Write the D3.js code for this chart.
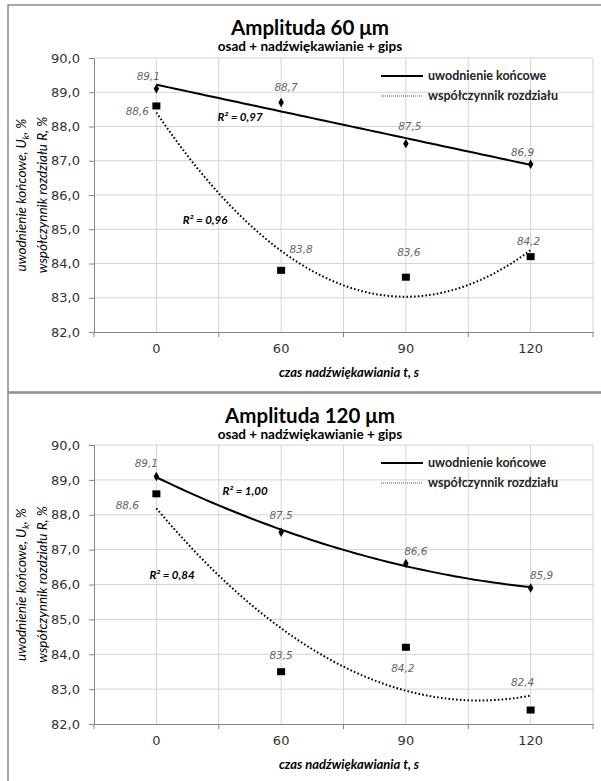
<!DOCTYPE html>
<html>
<head>
<meta charset="utf-8">
<script src="https://cdn.jsdelivr.net/npm/d3@7/dist/d3.min.js"></script>
<style>
  html, body { margin: 0; padding: 0; background: #fff; }
  svg { display: block; }
</style>
</head>
<body>
<svg id="chart" width="601" height="781"></svg>
<script>
// Sonication time categories (s)
const categories = ["0", "60", "90", "120"];

// Amplitude 60 µm
const uwodnienie60 = [89.1, 88.7, 87.5, 86.9];
const rozdzial60   = [88.6, 83.8, 83.6, 84.2];

// Amplitude 120 µm
const uwodnienie120 = [89.1, 87.5, 86.6, 85.9];
const rozdzial120   = [88.6, 83.5, 84.2, 82.4];

// Value axis
const yTicks = [82, 83, 84, 85, 86, 87, 88, 89, 90];

// Trendline fit degree and coefficient of determination labels
const trend60  = { uwodnienie: 1, rozdzial: 2 };
const trend120 = { uwodnienie: 2, rozdzial: 2 };
const r2Labels60  = ["R² = 0,97", "R² = 0,96"];
const r2Labels120 = ["R² = 1,00", "R² = 0,84"];

const seriesNames = ["uwodnienie końcowe", "współczynnik rozdziału"];
const titles = ["Amplituda 60 μm", "Amplituda 120 μm"];
const subtitle = "osad + nadźwiękawianie + gips";
const xTitle = "czas nadźwiękawiania t, s";

const fmt = v => d3.format(".1f")(v).replace(".", ",");

// Least-squares polynomial fit (degree 1 or 2) over category index 1..n
function polyFit(values, degree) {
  const xs = values.map((_, i) => i + 1);
  const m = degree + 1;
  const A = Array.from({ length: m }, () => new Array(m + 1).fill(0));
  for (let r = 0; r < m; r++) {
    for (let c = 0; c < m; c++) A[r][c] = d3.sum(xs, x => Math.pow(x, r + c));
    A[r][m] = d3.sum(xs, (x, i) => values[i] * Math.pow(x, r));
  }
  for (let i = 0; i < m; i++) {
    let p = i;
    for (let k = i + 1; k < m; k++) if (Math.abs(A[k][i]) > Math.abs(A[p][i])) p = k;
    [A[i], A[p]] = [A[p], A[i]];
    for (let k = i + 1; k < m; k++) {
      const f = A[k][i] / A[i][i];
      for (let c = i; c <= m; c++) A[k][c] -= f * A[i][c];
    }
  }
  const coef = new Array(m).fill(0);
  for (let i = m - 1; i >= 0; i--) {
    let s = A[i][m];
    for (let c = i + 1; c < m; c++) s -= A[i][c] * coef[c];
    coef[i] = s / A[i][i];
  }
  return x => coef.reduce((acc, a, k) => acc + a * Math.pow(x, k), 0);
}

const svg = d3.select("#chart");

function drawPanel(cfg) {
  const g = svg.append("g");
  const L = cfg.layout;

  // chart area frame
  g.append("rect")
    .attr("x", L.frameX).attr("y", L.frameY)
    .attr("width", L.frameW).attr("height", L.frameH)
    .attr("fill", "#fff").attr("stroke", "#8c8c8c").attr("stroke-width", 1.5);

  const x = d3.scaleBand().domain(categories).range([L.left, L.right]).padding(0);
  const xc = c => x(c) + x.bandwidth() / 2;
  const xi = d3.scaleLinear().domain([0.5, categories.length + 0.5]).range([L.left, L.right]);
  const y = d3.scaleLinear().domain([82, 90]).range([L.bottom, L.top]);

  // gridlines
  const grid = g.append("g").attr("stroke", "#d4d4d4").attr("stroke-width", 1);
  grid.selectAll("line.h").data(yTicks.filter(t => t > 82)).join("line")
    .attr("x1", L.left).attr("x2", L.right)
    .attr("y1", d => y(d)).attr("y2", d => y(d));
  const vx = [];
  categories.forEach(c => { vx.push(xc(c)); vx.push(x(c) + x.bandwidth()); });
  grid.selectAll("line.v").data(vx).join("line")
    .attr("x1", d => d).attr("x2", d => d)
    .attr("y1", L.top).attr("y2", L.bottom);

  // axes
  const yAxis = g.append("g").attr("transform", `translate(${L.left},0)`)
    .call(d3.axisLeft(y).tickValues(yTicks).tickFormat(fmt).tickSizeOuter(0).tickSize(5).tickPadding(9));
  const xAxis = g.append("g").attr("transform", `translate(0,${L.bottom})`)
    .call(d3.axisBottom(x).tickSize(0).tickSizeOuter(0).tickPadding(12));
  // category boundary tick marks
  const bounds = [L.left].concat(categories.map(c => x(c) + x.bandwidth()));
  xAxis.selectAll("line.bound").data(bounds).join("line")
    .attr("class", "bound")
    .attr("x1", d => d).attr("x2", d => d).attr("y1", 0).attr("y2", 5)
    .attr("stroke", "#868686");
  [yAxis, xAxis].forEach(a => {
    a.select(".domain").attr("stroke", "#868686");
    a.selectAll(".tick line").attr("stroke", "#868686");
    a.selectAll("text").attr("font-family", "DejaVu Sans").attr("font-size", 13).attr("fill", "#333");
  });

  // trendlines
  const samples = d3.range(1, categories.length + 0.001, 0.05);
  const series = [
    { values: cfg.uwodnienie, degree: cfg.trend.uwodnienie, dash: null },
    { values: cfg.rozdzial, degree: cfg.trend.rozdzial, dash: "1.6,2.2" }
  ];
  series.forEach(s => {
    const f = polyFit(s.values, s.degree);
    g.append("path")
      .datum(samples)
      .attr("fill", "none").attr("stroke", "#000")
      .attr("stroke-width", 2)
      .attr("stroke-dasharray", s.dash)
      .attr("d", d3.line().x(t => xi(t)).y(t => y(f(t))));
  });

  // markers
  g.append("g").selectAll("path").data(cfg.uwodnienie).join("path")
    .attr("transform", (d, i) => `translate(${xc(categories[i])},${y(d)})`)
    .attr("d", d3.symbol(d3.symbolDiamond, 26)).attr("fill", "#000");
  g.append("g").selectAll("rect").data(cfg.rozdzial).join("rect")
    .attr("x", (d, i) => xc(categories[i]) - 4).attr("y", d => y(d) - 3.5)
    .attr("width", 8).attr("height", 7).attr("fill", "#000");

  // data labels
  const lbl = g.append("g").attr("font-family", "DejaVu Sans").attr("font-style", "italic")
    .attr("font-size", 10.5).attr("fill", "#666").attr("text-anchor", "middle");
  [[cfg.uwodnienie, L.labU], [cfg.rozdzial, L.labR]].forEach(([vals, offs]) => {
    lbl.selectAll(null).data(vals).join("text")
      .attr("x", (d, i) => xc(categories[i]) + offs[i][0])
      .attr("y", (d, i) => y(d) + offs[i][1])
      .attr("dy", "0.35em")
      .text(d => fmt(d));
  });

  // R² labels
  g.append("g").attr("font-family", "Lato").attr("font-style", "italic").attr("font-weight", "bold")
    .attr("font-size", 11.5).attr("fill", "#000").attr("text-anchor", "middle")
    .selectAll("text").data(cfg.r2).join("text")
    .attr("x", (d, i) => L.r2Pos[i][0]).attr("y", (d, i) => L.r2Pos[i][1])
    .attr("dy", "0.35em").text(d => d);

  // legend
  const lg = g.append("g").attr("transform", `translate(${L.legX},${L.legY})`);
  seriesNames.forEach((name, i) => {
    const row = lg.append("g").attr("transform", `translate(0,${i * L.legGap})`);
    row.append("line").attr("x1", 0).attr("x2", 42)
      .attr("stroke", i === 0 ? "#000" : "#555").attr("stroke-width", i === 0 ? 2 : 1)
      .attr("stroke-dasharray", i === 0 ? null : "1,1");
    row.append("text").attr("x", 47).attr("dy", "0.35em")
      .attr("font-family", "Lato").attr("font-size", 12.5).attr("font-weight", "bold")
      .attr("fill", "#222").text(name);
  });

  // titles, centred on the chart area
  const cx = L.frameX + L.frameW / 2;
  g.append("text").attr("x", cx).attr("y", L.frameY + 30).attr("text-anchor", "middle")
    .attr("font-family", "Lato").attr("font-weight", "bold").attr("font-size", 20.5)
    .attr("fill", "#000").text(cfg.title);
  g.append("text").attr("x", cx).attr("y", L.frameY + 46).attr("text-anchor", "middle")
    .attr("font-family", "Lato").attr("font-weight", "bold").attr("font-size", 13.5)
    .attr("fill", "#000").text(subtitle);

  // axis titles
  g.append("text").attr("x", 349).attr("y", L.bottom + 45).attr("text-anchor", "middle")
    .attr("font-family", "Lato").attr("font-weight", "bold").attr("font-style", "italic")
    .attr("font-size", 13).attr("fill", "#000").text(xTitle);

  const yt = g.append("text")
    .attr("transform", `translate(0,${(L.top + L.bottom) / 2}) rotate(-90)`)
    .attr("text-anchor", "middle").attr("font-family", "Lato").attr("font-style", "italic")
    .attr("font-size", 13.5).attr("fill", "#000");
  const l1 = yt.append("tspan").attr("x", 0).attr("y", 26);
  l1.append("tspan").text("uwodnienie końcowe, U");
  l1.append("tspan").attr("font-size", 9).attr("dy", 3).text("k");
  l1.append("tspan").attr("dy", -3).text(", %");
  yt.append("tspan").attr("x", 0).attr("y", 47).text("współczynnik rozdziału R, %");
}

drawPanel({
  title: titles[0],
  uwodnienie: uwodnienie60, rozdzial: rozdzial60,
  trend: trend60, r2: r2Labels60,
  layout: {
    frameX: 8, frameY: 5, frameW: 604, frameH: 387,
    left: 94, right: 593, top: 58, bottom: 332,
    labU: [[-8, -13], [5, -15], [4, -17], [-8, -12]],
    labR: [[-19, 5], [20, -21], [3, -25], [-2, -15]],
    r2Pos: [[240, 117], [205, 220]],
    legX: 381, legY: 76, legGap: 20
  }
});

drawPanel({
  title: titles[1],
  uwodnienie: uwodnienie120, rozdzial: rozdzial120,
  trend: trend120, r2: r2Labels120,
  layout: {
    frameX: 8, frameY: 393, frameW: 604, frameH: 400,
    left: 94, right: 593, top: 445, bottom: 724,
    labU: [[-10, -13], [0, -17], [10, -12], [11, -13]],
    labR: [[-29, 11], [0, -16], [-3, 21], [-8, -28]],
    r2Pos: [[245, 491], [172, 575]],
    legX: 381, legY: 463, legGap: 20
  }
});
</script>
</body>
</html>
